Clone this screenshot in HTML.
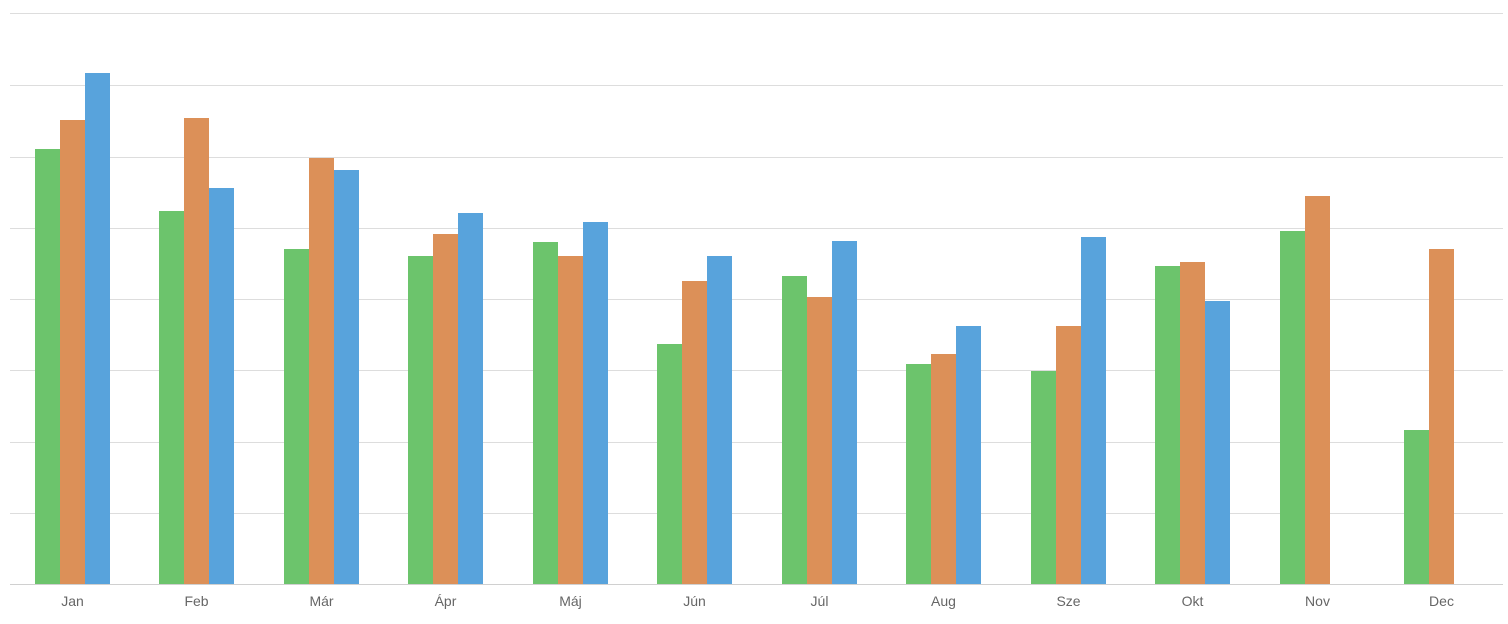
<!DOCTYPE html><html><head><style>body{margin:0;background:#fff;overflow:hidden}</style></head><body>
<svg width="1508" height="619" xmlns="http://www.w3.org/2000/svg" font-family="'Liberation Sans',sans-serif">
<g stroke="#dddddd" stroke-width="1">
<line x1="10" x2="1503" y1="13.5" y2="13.5"/><line x1="10" x2="1503" y1="85.5" y2="85.5"/><line x1="10" x2="1503" y1="157.5" y2="157.5"/><line x1="10" x2="1503" y1="228.5" y2="228.5"/><line x1="10" x2="1503" y1="299.5" y2="299.5"/><line x1="10" x2="1503" y1="370.5" y2="370.5"/><line x1="10" x2="1503" y1="442.5" y2="442.5"/><line x1="10" x2="1503" y1="513.5" y2="513.5"/></g>
<g id="bars"></g>
<line x1="10" x2="1503" y1="584.5" y2="584.5" stroke="#d0d0d0"/>
<g id="labels" font-size="14" fill="#666" text-anchor="middle"></g>
<text x="745" y="629" font-size="14" fill="#666" text-anchor="middle">Hónap</text>
</svg>
<script>
var starts=[35,159,284,408,533,657,782,906,1031,1155,1280,1404];
var tops=[[149,120,73],[211,118,188],[249,158,170],[256,234,213],[242,256,222],[344,281,256],[276,297,241],[364,354,326],[371,326,237],[266,262,301],[231,196,null],[430,249,null]];
var names=["Jan","Feb","Már","Ápr","Máj","Jún","Júl","Aug","Sze","Okt","Nov","Dec"];
var cols=["#6cc46c","#dc9058","#58a3dc"];var b="",l="";
starts.forEach(function(s,i){tops[i].forEach(function(t,j){if(t!==null)b+='<rect x="'+(s+25*j)+'" y="'+t+'" width="25" height="'+(584-t)+'" fill="'+cols[j]+'"/>';});
l+='<text x="'+(s+37.5)+'" y="606">'+names[i]+'</text>';});
document.getElementById("bars").innerHTML=b;document.getElementById("labels").innerHTML=l;
</script></body></html>
